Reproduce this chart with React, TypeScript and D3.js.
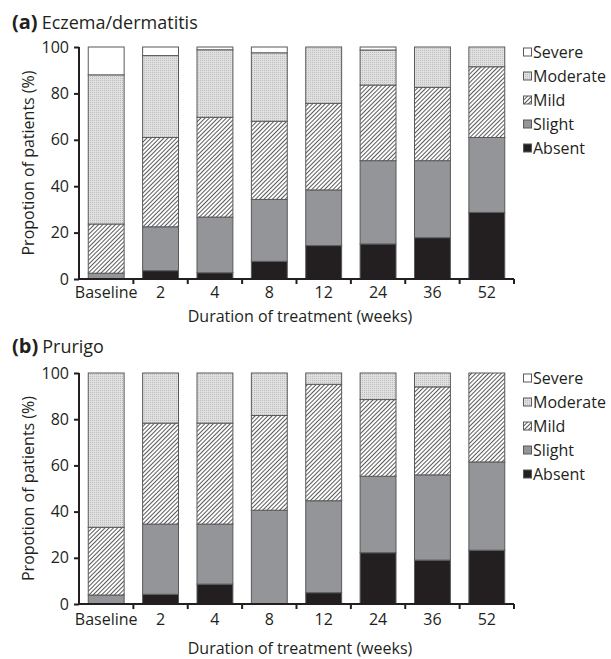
import React, { useRef, useEffect } from 'react';
import * as d3 from 'd3';

const categories = ['Baseline', '2', '4', '8', '12', '24', '36', '52'];
const severities = ['Absent', 'Slight', 'Mild', 'Moderate', 'Severe'];
const yTicks = [0, 20, 40, 60, 80, 100];

// panel (a) Eczema/dermatitis, % per severity for each category
const eczAbsent = [0, 3.6, 2.7, 7.6, 14.4, 15.1, 17.8, 28.7];
const eczSlight = [2.5, 18.9, 24.0, 26.7, 24.0, 35.9, 33.2, 32.3];
const eczMild = [21.2, 38.5, 43.0, 33.7, 37.3, 32.6, 31.6, 30.5];
const eczModerate = [64.3, 35.3, 29.1, 29.5, 24.3, 15.1, 17.4, 8.5];
const eczSevere = [12.0, 3.7, 1.2, 2.5, 0, 1.3, 0, 0];

// panel (b) Prurigo
const prAbsent = [0, 4.2, 8.6, 0, 4.9, 22.2, 19.0, 23.3];
const prSlight = [3.9, 30.4, 26.0, 40.6, 39.8, 33.1, 36.9, 38.2];
const prMild = [29.3, 43.7, 43.7, 41.0, 50.4, 33.2, 38.1, 38.5];
const prModerate = [66.8, 21.7, 21.7, 18.4, 4.9, 11.5, 6.0, 0];
const prSevere = [0, 0, 0, 0, 0, 0, 0, 0];

const FONT = '"Open Sans", sans-serif';

const fills: Record<string, string> = {
  Absent: '#231f20',
  Slight: '#939598',
  Mild: 'url(#hatch)',
  Moderate: 'url(#dots)',
  Severe: '#ffffff',
};

const toRows = (series: number[][]) =>
  categories.map((c, i) => {
    const row: any = { cat: c };
    severities.forEach((s, j) => (row[s] = series[j][i]));
    return row;
  });

const panels = [
  {
    tag: '(a)',
    title: 'Eczema/dermatitis',
    titleY: 29,
    top: 47,
    bottom: 279,
    tickPad: 8,
    xTitleOffset: 43,
    rows: toRows([eczAbsent, eczSlight, eczMild, eczModerate, eczSevere]),
  },
  {
    tag: '(b)',
    title: 'Prurigo',
    titleY: 353,
    top: 373,
    bottom: 604,
    tickPad: 10,
    xTitleOffset: 50,
    rows: toRows([prAbsent, prSlight, prMild, prModerate, prSevere]),
  },
];

const App = () => {
  const svgRef = useRef<SVGSVGElement>(null);

  useEffect(() => {
    const svg = d3.select(svgRef.current);
    svg.selectAll('*').remove();

    const defs = svg.append('defs');
    const hatch = defs.append('pattern')
      .attr('id', 'hatch')
      .attr('patternUnits', 'userSpaceOnUse')
      .attr('width', 3)
      .attr('height', 3)
      .attr('patternTransform', 'rotate(45)');
    hatch.append('rect').attr('width', 3).attr('height', 3).attr('fill', '#fff');
    hatch.append('line')
      .attr('x1', 0).attr('y1', 0).attr('x2', 0).attr('y2', 3)
      .attr('stroke', '#222').attr('stroke-width', 1.5);

    const dots = defs.append('pattern')
      .attr('id', 'dots')
      .attr('patternUnits', 'userSpaceOnUse')
      .attr('width', 2)
      .attr('height', 2);
    dots.append('rect').attr('width', 2).attr('height', 2).attr('fill', '#e0e0e1');
    dots.append('rect').attr('width', 1).attr('height', 1).attr('fill', '#bdbdbf');

    const x = d3.scaleBand()
      .domain(categories)
      .range([79, 514])
      .paddingInner(0.34)
      .paddingOuter(0.17);

    const stack = d3.stack().keys(severities);

    panels.forEach((p) => {
      const y = d3.scaleLinear().domain([0, 100]).range([p.bottom, p.top]);
      const g = svg.append('g');

      // title
      const t = g.append('text')
        .attr('x', 12)
        .attr('y', p.titleY)
        .style('font-family', FONT)
        .style('fill', '#231f20');
      t.append('tspan').style('font-weight', 700).style('font-size', '20px').text(p.tag);
      t.append('tspan').attr('dx', 4).style('font-size', '18px').text(p.title);

      // bars
      const series = stack(p.rows);
      series.forEach((s) => {
        g.append('g')
          .selectAll('rect')
          .data(s)
          .enter()
          .append('rect')
          .attr('x', (d: any) => x(d.data.cat)!)
          .attr('width', x.bandwidth())
          .attr('y', (d) => y(d[1]))
          .attr('height', (d) => y(d[0]) - y(d[1]))
          .attr('fill', fills[s.key])
          .attr('stroke', '#58595b')
          .attr('stroke-width', 1);
      });

      // y axis
      const yAxis = g.append('g')
        .attr('transform', 'translate(79,0)')
        .call(d3.axisLeft(y).tickValues(yTicks).tickSize(5).tickPadding(5));
      yAxis.select('.domain').attr('stroke', '#231f20').attr('stroke-width', 2)
        .attr('d', `M0,${p.top}V${p.bottom}`);
      yAxis.selectAll('.tick line').attr('stroke', '#231f20').attr('stroke-width', 2);
      yAxis.selectAll('.tick text')
        .style('font-family', FONT).style('font-size', '16px').attr('fill', '#231f20');

      // x axis (ticks between categories)
      const xAxis = g.append('g')
        .attr('transform', `translate(0,${p.bottom})`)
        .call(d3.axisBottom(x).tickSize(0).tickPadding(p.tickPad));
      xAxis.select('.domain').attr('stroke', '#231f20').attr('stroke-width', 2)
        .attr('d', `M79,0H514`);
      xAxis.selectAll('.tick text')
        .style('font-family', FONT).style('font-size', '16px').attr('fill', '#231f20');
      const step = x.step();
      xAxis.selectAll('line.sep')
        .data(d3.range(1, categories.length + 1))
        .enter()
        .append('line')
        .attr('class', 'sep')
        .attr('x1', (i) => 79 + i * step)
        .attr('x2', (i) => 79 + i * step)
        .attr('y1', 0)
        .attr('y2', 5)
        .attr('stroke', '#231f20')
        .attr('stroke-width', 2);

      // axis titles
      g.append('text')
        .attr('x', 300)
        .attr('y', p.bottom + p.xTitleOffset)
        .attr('text-anchor', 'middle')
        .style('font-family', FONT)
        .style('font-size', '16px')
        .style('fill', '#231f20')
        .text('Duration of treatment (weeks)');
      g.append('text')
        .attr('transform', `translate(34,${(p.top + p.bottom) / 2}) rotate(-90)`)
        .attr('text-anchor', 'middle')
        .style('font-family', FONT)
        .style('font-size', '16px')
        .style('fill', '#231f20')
        .text('Propotion of patients (%)');

      // legend
      const legend = g.append('g')
        .selectAll('g')
        .data(severities.slice().reverse())
        .enter()
        .append('g')
        .attr('transform', (_, i) => `translate(523,${p.top + 5 + i * 24})`);
      legend.append('rect')
        .attr('x', 0.5)
        .attr('y', -4)
        .attr('width', 8)
        .attr('height', 8)
        .attr('fill', (d) => fills[d])
        .attr('stroke', '#58595b')
        .attr('stroke-width', 1);
      legend.append('text')
        .attr('x', 10)
        .attr('dy', '0.35em')
        .style('font-family', FONT)
        .style('font-size', '16px')
        .style('fill', '#231f20')
        .text((d) => d);
    });
  }, []);

  return (
    <svg
      ref={svgRef}
      width={611}
      height={659}
      style={{ position: 'absolute', left: 0, top: 0, background: '#fff' }}
    />
  );
};

export default App;
